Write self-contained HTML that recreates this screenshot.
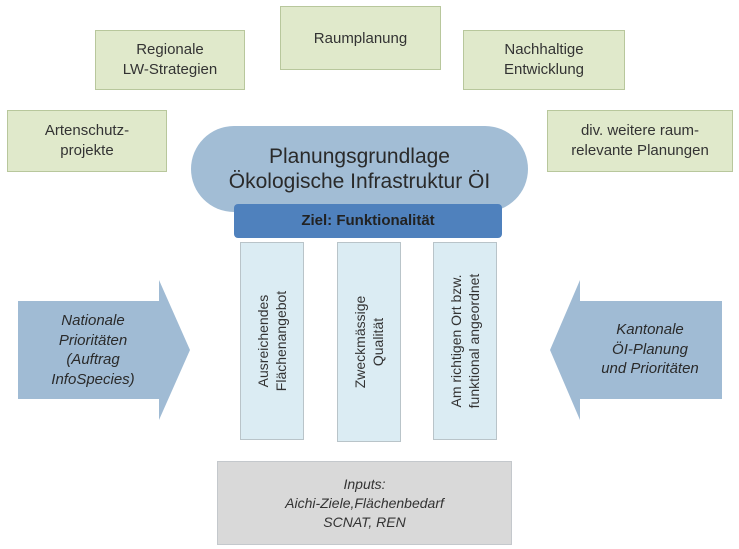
<!DOCTYPE html>
<html><head><meta charset="utf-8"><style>
body{margin:0;width:739px;height:549px;background:#fff;position:relative;overflow:hidden;font-family:"Liberation Sans",sans-serif;color:#333}
.g{position:absolute;background:#e0e9cb;border:1px solid #b8c79c;display:flex;align-items:center;justify-content:center;text-align:center;font-size:15px;line-height:20px;box-sizing:border-box}
.c{position:absolute;background:#dbecf3;border:1px solid #b9c4c9;box-sizing:border-box}
.c div{position:absolute;left:50%;top:50%;transform:translate(-50%,-50%) rotate(-90deg);white-space:nowrap;text-align:center;font-size:14px;line-height:18px}
.it{font-style:italic}
</style></head><body>
<div class="g" style="left:95px;top:30px;width:150px;height:60px">Regionale<br>LW-Strategien</div>
<div class="g" style="left:280px;top:6px;width:161px;height:64px;align-items:flex-start;padding-top:22px">Raumplanung</div>
<div class="g" style="left:463px;top:30px;width:162px;height:60px">Nachhaltige<br>Entwicklung</div>
<div class="g" style="left:7px;top:110px;width:160px;height:62px">Artenschutz-<br>projekte</div>
<div class="g" style="left:547px;top:110px;width:186px;height:62px">div. weitere raum-<br>relevante Planungen</div>
<div style="position:absolute;left:191px;top:126px;width:337px;height:86px;border-radius:43px;background:#a2bdd5;text-align:center;font-size:21px;line-height:25px;padding-top:18px;box-sizing:border-box;color:#2a2a2a">Planungsgrundlage<br>Ökologische Infrastruktur ÖI</div>
<div style="position:absolute;left:234px;top:204px;width:268px;height:34px;border-radius:4px;background:#4f81bd;text-align:center;font-size:15px;line-height:34px;color:#222;font-weight:bold">Ziel: Funktionalität</div>
<div class="c" style="left:240px;top:242px;width:64px;height:198px"><div>Ausreichendes<br>Flächenangebot</div></div>
<div class="c" style="left:337px;top:242px;width:64px;height:200px"><div>Zweckmässige<br>Qualität</div></div>
<div class="c" style="left:433px;top:242px;width:64px;height:198px"><div>Am richtigen Ort bzw.<br>funktional angeordnet</div></div>
<svg style="position:absolute;left:0;top:0" width="739" height="549">
<polygon points="18,301 159,301 159,280 190,350 159,420 159,399 18,399" fill="#a0bbd4"/>
<polygon points="722,301 580,301 580,280 550,350 580,420 580,399 722,399" fill="#a0bbd4"/>
</svg>
<div class="it" style="position:absolute;left:18px;top:311px;width:150px;text-align:center;font-size:15px;line-height:19.5px;color:#2a2a2a">Nationale<br>Prioritäten<br>(Auftrag<br>InfoSpecies)</div>
<div class="it" style="position:absolute;left:575px;top:320px;width:150px;text-align:center;font-size:15px;line-height:19.5px;color:#2a2a2a">Kantonale<br>ÖI-Planung<br>und Prioritäten</div>
<div class="it" style="position:absolute;left:217px;top:461px;width:295px;height:84px;background:#d9d9d9;border:1px solid #c4c8cc;box-sizing:border-box;text-align:center;font-size:14px;line-height:19px;padding-top:13px;color:#333">Inputs:<br>Aichi-Ziele,Flächenbedarf<br>SCNAT, REN</div>
</body></html>
